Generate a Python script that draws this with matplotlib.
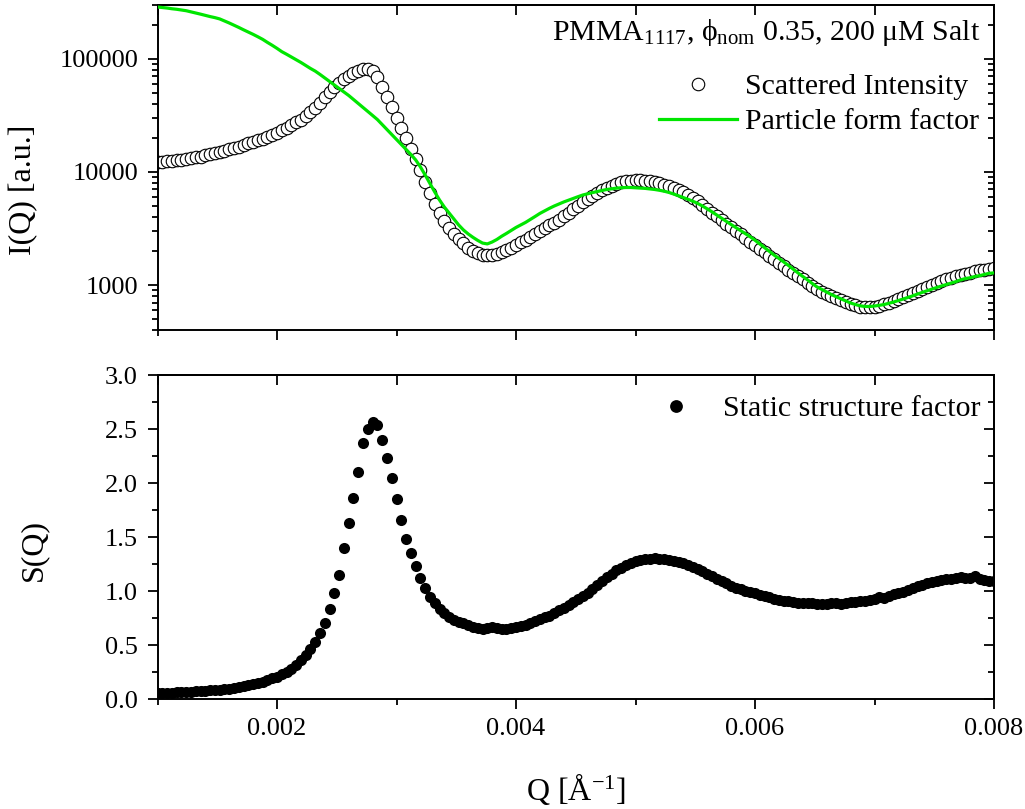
import matplotlib
matplotlib.use('Agg')
import matplotlib.pyplot as plt
import numpy as np
from matplotlib.ticker import MultipleLocator, FixedLocator, LogLocator, NullFormatter, FuncFormatter

plt.rcParams['font.family'] = ['Liberation Serif', 'DejaVu Serif']
plt.rcParams['mathtext.fontset'] = 'custom'
plt.rcParams['mathtext.rm'] = 'Liberation Serif'
plt.rcParams['mathtext.default'] = 'regular'

# scattering vector [1/A]
q = np.array([
    0.00100, 0.00104, 0.00108, 0.00112, 0.00116, 0.00120, 0.00124, 0.00128, 0.00132, 0.00136,
    0.00140, 0.00144, 0.00148, 0.00152, 0.00156, 0.00160, 0.00164, 0.00168, 0.00172, 0.00176,
    0.00180, 0.00184, 0.00188, 0.00192, 0.00196, 0.00200, 0.00204, 0.00208, 0.00212, 0.00216,
    0.00220, 0.00224, 0.00228, 0.00232, 0.00236, 0.00240, 0.00244, 0.00248, 0.00252, 0.00256,
    0.00260, 0.00264, 0.00268, 0.00272, 0.00276, 0.00280, 0.00284, 0.00288, 0.00292, 0.00296,
    0.00300, 0.00304, 0.00308, 0.00312, 0.00316, 0.00320, 0.00324, 0.00328, 0.00332, 0.00336,
    0.00340, 0.00344, 0.00348, 0.00352, 0.00356, 0.00360, 0.00364, 0.00368, 0.00372, 0.00376,
    0.00380, 0.00384, 0.00388, 0.00392, 0.00396, 0.00400, 0.00404, 0.00408, 0.00412, 0.00416,
    0.00420, 0.00424, 0.00428, 0.00432, 0.00436, 0.00440, 0.00444, 0.00448, 0.00452, 0.00456,
    0.00460, 0.00464, 0.00468, 0.00472, 0.00476, 0.00480, 0.00484, 0.00488, 0.00492, 0.00496,
    0.00500, 0.00504, 0.00508, 0.00512, 0.00516, 0.00520, 0.00524, 0.00528, 0.00532, 0.00536,
    0.00540, 0.00544, 0.00548, 0.00552, 0.00556, 0.00560, 0.00564, 0.00568, 0.00572, 0.00576,
    0.00580, 0.00584, 0.00588, 0.00592, 0.00596, 0.00600, 0.00604, 0.00608, 0.00612, 0.00616,
    0.00620, 0.00624, 0.00628, 0.00632, 0.00636, 0.00640, 0.00644, 0.00648, 0.00652, 0.00656,
    0.00660, 0.00664, 0.00668, 0.00672, 0.00676, 0.00680, 0.00684, 0.00688, 0.00692, 0.00696,
    0.00700, 0.00704, 0.00708, 0.00712, 0.00716, 0.00720, 0.00724, 0.00728, 0.00732, 0.00736,
    0.00740, 0.00744, 0.00748, 0.00752, 0.00756, 0.00760, 0.00764, 0.00768, 0.00772, 0.00776,
    0.00780, 0.00784, 0.00788, 0.00792, 0.00796, 0.00800])

# measured intensity I(Q) [a.u.]
intensity = np.array([
    12200, 12300, 12400, 12500, 12650, 12800, 13000, 13200, 13450, 13700,
    14000, 14300, 14600, 14900, 15400, 15900, 16300, 16800, 17300, 17900,
    18500, 19000, 19700, 20500, 21300, 22100, 23300, 24600, 25900, 27400,
    29100, 31300, 34000, 36900, 40700, 45700, 51000, 56400, 61300, 65800,
    70700, 75000, 79000, 81500, 81500, 78300, 69300, 56400, 46100, 37600,
    30000, 24600, 20000, 16000, 13000, 10400, 8160, 6520, 5220, 4340,
    3680, 3190, 2830, 2550, 2330, 2140, 2010, 1920, 1860, 1840,
    1840, 1880, 1960, 2060, 2140, 2260, 2380, 2500, 2640, 2820,
    3000, 3190, 3380, 3560, 3760, 4040, 4340, 4660, 5000, 5370,
    5770, 6130, 6520, 6860, 7220, 7520, 7850, 8080, 8270, 8390,
    8440, 8440, 8390, 8320, 8160, 7950, 7740, 7520, 7250, 6930,
    6590, 6260, 5890, 5490, 5100, 4710, 4340, 4040, 3730, 3470,
    3230, 3010, 2800, 2600, 2420, 2260, 2100, 1960, 1820, 1690,
    1580, 1470, 1370, 1270, 1190, 1120, 1040, 980, 920, 875,
    832, 795, 760, 730, 705, 685, 665, 645, 635, 633,
    640, 655, 675, 698, 722, 750, 780, 812, 846, 882,
    920, 958, 998, 1040, 1080, 1120, 1160, 1195, 1230, 1260,
    1290, 1320, 1345, 1370, 1390, 1410])

# particle form factor P(Q), same grid
form_factor = np.array([
    288000, 285000, 282000, 278000, 275000, 271000, 267000, 261000, 255000, 249000,
    243000, 237000, 232000, 226000, 217000, 208000, 199000, 190000, 181000, 173000,
    165000, 157000, 149000, 140000, 132000, 124000, 116000, 110000, 104000, 98400,
    93100, 87600, 82400, 78000, 72900, 67900, 63200, 58900, 54800, 51000,
    47500, 43800, 40400, 37300, 34300, 31600, 29100, 26300, 23800, 21500,
    19400, 17600, 15900, 14300, 12800, 11100, 9400, 7920, 6650, 5650,
    4900, 4340, 3840, 3400, 3070, 2830, 2640, 2480, 2350, 2310,
    2400, 2530, 2700, 2860, 3040, 3230, 3400, 3580, 3800, 4040,
    4300, 4530, 4770, 5000, 5210, 5430, 5630, 5830, 6050, 6260,
    6420, 6570, 6720, 6860, 7000, 7100, 7190, 7250, 7290, 7290,
    7250, 7220, 7160, 7080, 7000, 6890, 6760, 6590, 6380, 6160,
    5940, 5730, 5510, 5270, 5000, 4720, 4440, 4160, 3900, 3660,
    3430, 3220, 3020, 2840, 2670, 2490, 2310, 2140, 1990, 1840,
    1720, 1600, 1490, 1380, 1280, 1190, 1110, 1030, 960, 913,
    866, 823, 787, 755, 723, 693, 672, 655, 646, 646,
    652, 661, 672, 689, 707, 730, 752, 776, 802, 832,
    861, 891, 920, 950, 980, 1010, 1040, 1070, 1110, 1140,
    1160, 1190, 1210, 1240, 1270, 1280])

# static structure factor S(Q)
structure = np.array([
    0.056, 0.057, 0.058, 0.060, 0.062, 0.064, 0.066, 0.068, 0.071, 0.074,
    0.077, 0.080, 0.083, 0.087, 0.092, 0.097, 0.103, 0.110, 0.117, 0.126,
    0.136, 0.147, 0.160, 0.174, 0.190, 0.208, 0.228, 0.252, 0.280, 0.318,
    0.362, 0.412, 0.465, 0.530, 0.610, 0.700, 0.830, 0.980, 1.150, 1.400,
    1.630, 1.860, 2.100, 2.370, 2.500, 2.565, 2.540, 2.400, 2.230, 2.050,
    1.850, 1.660, 1.480, 1.350, 1.235, 1.120, 1.030, 0.944, 0.890, 0.830,
    0.800, 0.760, 0.735, 0.715, 0.700, 0.685, 0.670, 0.655, 0.648, 0.660,
    0.667, 0.655, 0.648, 0.650, 0.658, 0.665, 0.675, 0.688, 0.703, 0.722,
    0.740, 0.755, 0.770, 0.795, 0.820, 0.845, 0.875, 0.900, 0.925, 0.950,
    0.985, 1.020, 1.060, 1.095, 1.130, 1.160, 1.190, 1.215, 1.240, 1.260,
    1.275, 1.288, 1.295, 1.300, 1.302, 1.300, 1.297, 1.290, 1.280, 1.270,
    1.255, 1.240, 1.225, 1.205, 1.185, 1.162, 1.140, 1.115, 1.090, 1.070,
    1.050, 1.030, 1.015, 1.000, 0.990, 0.978, 0.965, 0.953, 0.940, 0.928,
    0.918, 0.910, 0.903, 0.897, 0.893, 0.890, 0.887, 0.885, 0.884, 0.883,
    0.883, 0.885, 0.888, 0.884, 0.890, 0.895, 0.900, 0.905, 0.912, 0.920,
    0.930, 0.942, 0.938, 0.958, 0.970, 0.982, 0.995, 1.010, 1.025, 1.045,
    1.060, 1.075, 1.085, 1.095, 1.100, 1.108, 1.115, 1.120, 1.130, 1.118,
    1.125, 1.135, 1.110, 1.105, 1.095, 1.090])

sample_label = 'PMMA$_{1117}$, \u03d5$_{nom}$ 0.35, 200 \u03bcM Salt'

W, H = 1025, 809
fig = plt.figure(figsize=(W / 100, H / 100), dpi=100)
x0, x1 = 157.5, 994
ax1 = fig.add_axes([x0 / W, 1 - 330 / H, (x1 - x0) / W, 325 / H])
ax2 = fig.add_axes([x0 / W, 1 - 699 / H, (x1 - x0) / W, 324 / H])

tick_fs = 19
leg_fs = 21.5
lab_fs = 23

# --- top: I(Q) and P(Q) ---
ax1.plot(q, intensity, 'o', ms=9, mfc='white', mec='black', mew=0.8,
         label='Scattered Intensity', zorder=2)
ax1.plot(q, form_factor, '-', color='#00e600', lw=2.3,
         label='Particle form factor', zorder=3)
ax1.set_yscale('log')
ax1.set_ylim(400, 300000)
ax1.yaxis.set_major_locator(FixedLocator([1000, 10000, 100000]))
ax1.yaxis.set_major_formatter(FuncFormatter(lambda v, p: '%d' % v))
ax1.yaxis.set_minor_locator(LogLocator(base=10, subs=np.arange(2, 10)))
ax1.yaxis.set_minor_formatter(NullFormatter())
ax1.set_ylabel('I(Q) [a.u.]', fontsize=lab_fs)
ax1.yaxis.set_label_coords(-0.143, 0.43)
ax1.tick_params(labelbottom=False)
ax1.text(0.983, 0.915, sample_label, transform=ax1.transAxes,
         ha='right', va='center', fontsize=leg_fs)

# --- bottom: S(Q) ---
ax2.plot(q, structure, 'o', ms=8, color='black', mew=0,
         label='Static structure factor')
ax2.set_ylim(0, 3)
ax2.yaxis.set_major_locator(MultipleLocator(0.5))
ax2.yaxis.set_minor_locator(MultipleLocator(0.25))
ax2.yaxis.set_major_formatter(FuncFormatter(lambda v, p: '%.1f' % v))
ax2.set_ylabel('S(Q)', fontsize=lab_fs)
ax2.yaxis.set_label_coords(-0.131, 0.46)
ax2.set_xlabel('Q [\u00c5$^{-1}$]', fontsize=lab_fs, labelpad=22)

for ax in (ax1, ax2):
    ax.set_xlim(0.001, 0.008)
    ax.xaxis.set_major_locator(MultipleLocator(0.002))
    ax.xaxis.set_minor_locator(MultipleLocator(0.001))
    ax.xaxis.set_major_formatter(FuncFormatter(lambda v, p: '%.3f' % v))
    ax.tick_params(which='both', direction='out', top=False, right=False,
                   width=1.3, labelsize=tick_fs, pad=7)
    ax.tick_params(which='major', length=7)
    ax.tick_params(which='minor', length=4)
    for s in ax.spines.values():
        s.set_linewidth(1.4)
    # mirrored ticks pointing inward on top and right
    sx = ax.secondary_xaxis('top')
    sx.xaxis.set_major_locator(MultipleLocator(0.002))
    sx.xaxis.set_minor_locator(MultipleLocator(0.001))
    sx.tick_params(which='both', direction='in', labeltop=False, width=1.3, length=7)
    sx.spines['top'].set_linewidth(1.4)
    sy = ax.secondary_yaxis('right')
    sy.tick_params(which='both', direction='in', labelright=False, width=1.3)
    sy.tick_params(which='major', length=7)
    sy.tick_params(which='minor', length=4.5)
    sy.spines['right'].set_linewidth(1.4)

sy1 = ax1.child_axes[-1]
sy1.yaxis.set_major_locator(FixedLocator([1000, 10000, 100000]))
sy1.yaxis.set_minor_locator(LogLocator(base=10, subs=np.arange(2, 10)))
sy1.yaxis.set_minor_formatter(NullFormatter())
sy2 = ax2.child_axes[-1]
sy2.yaxis.set_major_locator(MultipleLocator(0.5))
sy2.yaxis.set_minor_locator(MultipleLocator(0.25))

leg1 = ax1.legend(loc='upper right', bbox_to_anchor=(0.991, 0.812),
                  frameon=False, fontsize=leg_fs,
                  handlelength=2.6, handletextpad=0.27, labelspacing=0.26,
                  borderpad=0.25, borderaxespad=0)
leg2 = ax2.legend(loc='upper right', bbox_to_anchor=(1.0, 0.978),
                  frameon=False, fontsize=leg_fs,
                  handlelength=2.6, handletextpad=0.27,
                  borderpad=0.25, borderaxespad=0.2, markerscale=1.15)

fig.savefig('out.png', dpi=100)
